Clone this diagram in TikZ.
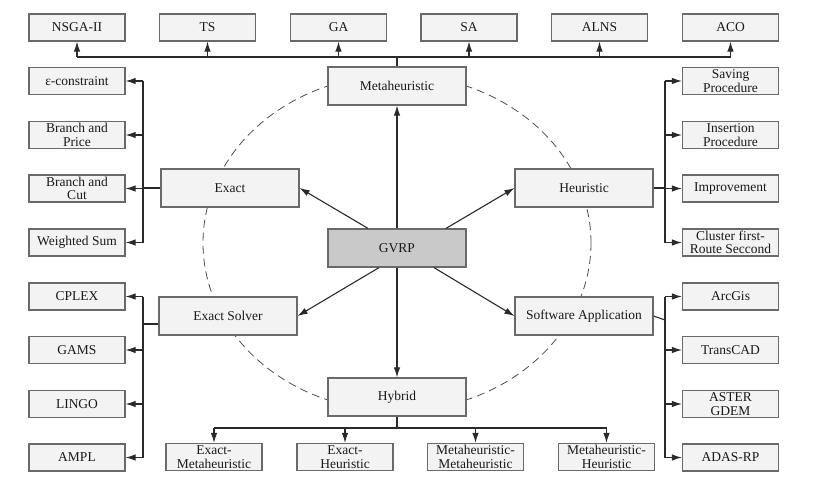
\documentclass[tikz,border=0pt]{standalone}
\usepackage{fontspec}
\setmainfont{Liberation Serif}
\usetikzlibrary{arrows.meta,calc}
\definecolor{boxline}{HTML}{6A6A6A}
\definecolor{boxfill}{HTML}{F3F3F3}
\definecolor{gvrpfill}{HTML}{C9C9C9}
\definecolor{linec}{HTML}{2A2A2A}
\begin{document}
\begin{tikzpicture}[x=1pt,y=-1pt,
  box/.style={draw=boxline, fill=boxfill, line width=1.2pt, minimum width=96pt, minimum height=27pt,
    inner sep=0pt, align=center, font=\fontsize{13.5}{13.5}\selectfont, text=black!90},
  cbox/.style={box, minimum width=138pt, minimum height=38pt},
  conn/.style={draw=linec, line width=1.1pt},
  arr/.style={conn, -{Latex[length=10pt,width=6.5pt]}},
  ring/.style={draw=black!70, line width=0.8pt, dash pattern=on 8pt off 5pt}
]
\useasboundingbox (0,0) rectangle (830,490);
\draw[ring] (397,243) ellipse [x radius=194pt, y radius=168pt];

% top row
\node[box] (nsga) at (77,27.5) {NSGA-II};
\node[box] (ts) at (207.5,27.5) {TS};
\node[box] (ga) at (338.5,27.5) {GA};
\node[box] (sa1) at (469,27.5) {SA};
\node[box] (alns) at (599.5,27.5) {ALNS};
\node[box] (aco) at (730.5,27.5) {ACO};

% left upper
\node[box] (eps) at (77,81) {ε-constraint};
\node[box] (bp) at (77,135) {Branch and\\Price};
\node[box] (bc) at (77,188.5) {Branch and\\Cut};
\node[box] (ws) at (77,242.5) {Weighted Sum};

% right upper
\node[box] (sav) at (730.5,81) {Saving\\Procedure};
\node[box] (ins) at (730.5,135) {Insertion\\Procedure};
\node[box] (imp) at (730.5,188.5) {Improvement};
\node[box] (clu) at (730.5,242.5) {Cluster first-\\Route Seccond};

% left lower
\node[box] (cplex) at (77,296.5) {CPLEX};
\node[box] (gams) at (77,350) {GAMS};
\node[box] (lingo) at (77,404) {LINGO};
\node[box] (ampl) at (77,457.5) {AMPL};

% right lower
\node[box] (arc) at (730.5,296.5) {ArcGis};
\node[box] (tcad) at (730.5,350) {TransCAD};
\node[box] (aster) at (730.5,404) {ASTER\\GDEM};
\node[box] (adas) at (730.5,457.5) {ADAS-RP};

% bottom row
\node[box] (em) at (214,457) {Exact-\\Metaheuristic};
\node[box] (eh) at (345,457) {Exact-\\Heuristic};
\node[box] (mm) at (475.5,457) {Metaheuristic-\\Metaheuristic};
\node[box] (mh) at (606.5,457) {Metaheuristic-\\Heuristic};

% central
\node[cbox] (meta) at (397,86) {Metaheuristic};
\node[cbox] (exact) at (230,188) {Exact};
\node[cbox] (heur) at (584,188) {Heuristic};
\node[cbox, fill=gvrpfill] (gvrp) at (397,248) {GVRP};
\node[cbox] (es) at (228,316) {Exact Solver};
\node[cbox] (sa) at (584,316) {Software Application};
\node[cbox] (hyb) at (397,397) {Hybrid};

% GVRP arrows
\draw[arr] (gvrp.north) -- (meta.south);
\draw[arr] (gvrp.south) -- (hyb.north);
\draw[arr] ($(gvrp.north)+(-29,0)$) -- (exact.east);
\draw[arr] ($(gvrp.north)+(49,0)$) -- (heur.west);
\draw[arr] ($(gvrp.south)+(-18,0)$) -- (es.east);
\draw[arr] ($(gvrp.south)+(37,0)$) -- (sa.west);

% top bus
\coordinate (tb) at (0,57);
\draw[conn] (meta.north) -- (meta.north |- tb);
\draw[conn] (nsga.south |- tb) -- (aco.south |- tb);
\foreach \n in {nsga,ts,ga,sa1,alns,aco} \draw[arr] (\n.south |- tb) -- (\n.south);

% left buses
\coordinate (lx) at (143,0);
\draw[conn] (exact.west) -- (lx |- exact.west);
\draw[conn] (lx |- eps.east) -- (lx |- ws.east);
\foreach \n in {eps,bp,bc,ws} \draw[arr] (lx |- \n.east) -- (\n.east);
\draw[conn] ($(es.west)+(0,8)$) -- ($(lx |- es.west)+(0,8)$);
\draw[conn] (lx |- cplex.east) -- (lx |- ampl.east);
\foreach \n in {cplex,gams,lingo,ampl} \draw[arr] (lx |- \n.east) -- (\n.east);

% right buses
\coordinate (rx) at (665,0);
\draw[conn] (heur.east) -- (rx |- heur.east);
\draw[conn] (rx |- sav.west) -- (rx |- clu.west);
\foreach \n in {sav,ins,imp,clu} \draw[arr] (rx |- \n.west) -- (\n.west);
\draw[conn] (sa.east) -- ($(rx |- sa.east)+(0,4)$);
\draw[conn] (rx |- arc.west) -- (rx |- adas.west);
\foreach \n in {arc,tcad,aster,adas} \draw[arr] (rx |- \n.west) -- (\n.west);

% hybrid bus
\coordinate (hb) at (0,428);
\draw[conn] (hyb.south) -- (hyb.south |- hb);
\draw[conn] (em.north |- hb) -- (mh.north |- hb);
\foreach \n in {em,eh,mm,mh} \draw[arr] (\n.north |- hb) -- (\n.north);
\end{tikzpicture}
\end{document}
